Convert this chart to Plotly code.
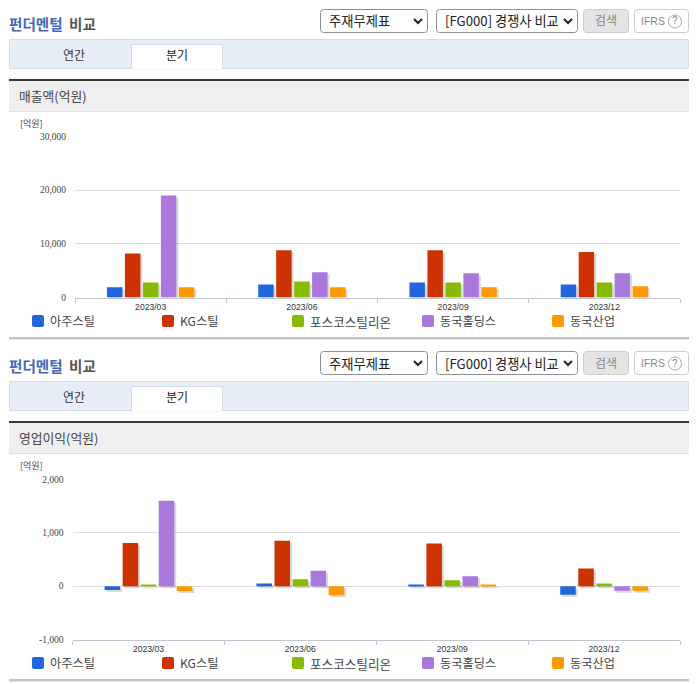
import plotly.graph_objects as go

W, H = 696, 684
KR = "Noto Sans CJK KR"
EN = "Liberation Sans"
NARROW = "Liberation Sans Narrow"

periods = ["2023/03", "2023/06", "2023/09", "2023/12"]
companies = ["아주스틸", "KG스틸", "포스코스틸리온", "동국홀딩스", "동국산업"]
colors = ["#2266dd", "#cc3300", "#88bb00", "#aa77dd", "#ff9900"]

revenue_ajoo = [1900, 2400, 2800, 2400]
revenue_kg = [8200, 8800, 8800, 8500]
revenue_posco = [2800, 3000, 2800, 2800]
revenue_dkh = [19000, 4700, 4500, 4500]
revenue_dki = [1900, 1900, 1900, 2100]

profit_ajoo = [-70, 50, 30, -160]
profit_kg = [810, 850, 800, 330]
profit_posco = [15, 130, 110, 50]
profit_dkh = [1600, 290, 185, -85]
profit_dki = [-90, -170, 25, -85]

revenue = [revenue_ajoo, revenue_kg, revenue_posco, revenue_dkh, revenue_dki]
profit = [profit_ajoo, profit_kg, profit_posco, profit_dkh, profit_dki]

rev_ticks = [0, 10000, 20000, 30000]
prof_ticks = [-1000, 0, 1000, 2000]

fig = go.Figure()
shapes, notes = [], []


def px(x):
    return x / W


def py(y):
    return 1 - y / H


def rect(x0, y0, x1, y1, fill=None, line=None, lw=1):
    shapes.append(dict(type="rect", xref="paper", yref="paper", x0=px(x0), x1=px(x1),
                       y0=py(y1), y1=py(y0), fillcolor=fill or "rgba(0,0,0,0)",
                       line=dict(color=line or "rgba(0,0,0,0)", width=lw if line else 0),
                       layer="below"))


def rrect(x0, y0, x1, y1, r, fill=None, line=None):
    X = lambda v: px(v)
    Y = lambda v: py(v)
    path = (f"M{X(x0+r)},{Y(y0)} L{X(x1-r)},{Y(y0)} Q{X(x1)},{Y(y0)} {X(x1)},{Y(y0+r)} "
            f"L{X(x1)},{Y(y1-r)} Q{X(x1)},{Y(y1)} {X(x1-r)},{Y(y1)} "
            f"L{X(x0+r)},{Y(y1)} Q{X(x0)},{Y(y1)} {X(x0)},{Y(y1-r)} "
            f"L{X(x0)},{Y(y0+r)} Q{X(x0)},{Y(y0)} {X(x0+r)},{Y(y0)} Z")
    shapes.append(dict(type="path", xref="paper", yref="paper", path=path,
                       fillcolor=fill or "rgba(0,0,0,0)",
                       line=dict(color=line or "rgba(0,0,0,0)", width=1 if line else 0),
                       layer="below"))


def text(x, y, s, size=12, color="#333333", anchor="left", family=KR):
    notes.append(dict(xref="paper", yref="paper", x=px(x), y=py(y), text=s, showarrow=False,
                      xanchor=anchor, yanchor="middle", align=anchor,
                      font=dict(size=size, color=color, family=family),
                      borderpad=0, borderwidth=0))


def chevron(cx, cy):
    path = (f"M{px(cx-4)},{py(cy-2)} L{px(cx)},{py(cy+2)} L{px(cx+4)},{py(cy-2)}")
    shapes.append(dict(type="path", xref="paper", yref="paper", path=path,
                       line=dict(color="#222222", width=2), layer="below"))


def chrome(dy, metric):
    text(9, 23.5 + dy, "<b>펀더멘털</b>", 14.6, "#4468b8")
    text(69, 23.5 + dy, "<b>비교</b>", 14.6, "#555555")
    rrect(320.5, 9.5 + dy, 427.5, 32.5 + dy, 3, "#ffffff", "#8f8f8f")
    text(329, 21 + dy, "주재무제표", 13.3, "#222222")
    chevron(418, 21 + dy)
    rrect(436.5, 9.5 + dy, 577.5, 32.5 + dy, 3, "#ffffff", "#8f8f8f")
    text(445, 21 + dy, "[FG000] 경쟁사 비교", 13.2, "#222222")
    chevron(568, 21 + dy)
    rrect(583.5, 9.5 + dy, 628.5, 32.5 + dy, 3, "#e4e4e4", "#cccccc")
    text(606, 20 + dy, "검색", 12, "#888888", "center")
    rrect(634.5, 9.5 + dy, 688.5, 32.5 + dy, 3, "#ffffff", "#cccccc")
    text(641, 21 + dy, "IFRS", 10.5, "#888888", family=EN)
    text(675, 21 + dy, "?", 10, "#888888", "center", EN)
    shapes.append(dict(type="circle", xref="paper", yref="paper", x0=px(668.5), x1=px(681.5),
                       y0=py(28 + dy), y1=py(15 + dy), line=dict(color="#aaaaaa", width=1),
                       layer="below"))
    rect(9.5, 39.5 + dy, 688.5, 68.5 + dy, "#e8eef8", "#d5dce8")
    rect(131.5, 44.5 + dy, 222.5, 69 + dy, "#ffffff", "#d5dce8")
    rect(132, 66 + dy, 222, 69.5 + dy, "#ffffff")
    text(74, 55 + dy, "연간", 12, "#333333", "center")
    text(177, 55 + dy, "분기", 12, "#222222", "center")
    rect(9, 79 + dy, 689, 81 + dy, "#3a3a3a")
    rect(9, 81 + dy, 689, 111 + dy, "#efefef")
    rect(9, 111 + dy, 689, 112 + dy, "#e0e0e0")
    text(19, 95.5 + dy, metric, 12.8, "#444444")
    text(20, 123 + dy, "[억원]", 9, "#444444")
    rect(9, 337 + dy, 689, 339.5 + dy, "#c4c4c4")
    for i, name in enumerate(companies):
        x = 32 + 130 * i
        rrect(x, 315 + dy, x + 12, 327 + dy, 2, colors[i])
        text(x + 17.5, 321 + dy, name, 12.6 if i == 2 else 12.2, "#444444")


chrome(0, "매출액(억원)")
chrome(342, "영업이익(억원)")


def add_chart(values, ticks, left, right, top, bottom, ax_base, ax_main):
    span = ticks[-1] - ticks[0]
    sx = 2 / ((right - left) / len(periods))
    sy = 2 * span / (bottom - top)
    dom_x = [px(left), px(right)]
    dom_y = [py(bottom), py(top)]
    bx, by = ("x", "y") if ax_base == 1 else (f"x{ax_base}", f"y{ax_base}")
    mx, my = f"x{ax_main}", f"y{ax_main}"
    for name, vals in zip(companies, values):
        fig.add_trace(go.Bar(x=periods, y=vals, name=name, xaxis=bx, yaxis=by,
                             marker=dict(color="rgba(0,0,0,0.15)", line_width=0),
                             showlegend=False, hoverinfo="skip"))
    for name, vals, col in zip(companies, values, colors):
        fig.add_trace(go.Bar(x=periods, y=vals, name=name, xaxis=mx, yaxis=my,
                             marker=dict(color=col, line_width=0), showlegend=False))
    kx = "xaxis" if ax_base == 1 else f"xaxis{ax_base}"
    ky = "yaxis" if ax_base == 1 else f"yaxis{ax_base}"
    fig.update_layout({
        kx: dict(domain=dom_x, type="category", categoryorder="array", categoryarray=periods,
                 range=[-0.5 - sx, len(periods) - 0.5 - sx], visible=False, anchor=by),
        ky: dict(domain=dom_y, range=[ticks[0] + sy, ticks[-1] + sy], visible=False, anchor=bx),
        f"xaxis{ax_main}": dict(domain=dom_x, type="category", categoryorder="array",
                                categoryarray=periods, range=[-0.5, len(periods) - 0.5],
                                overlaying=bx, anchor=my, tickson="boundaries", ticks="outside",
                                ticklen=4, tickcolor="#c0c8d8", tickwidth=1, showline=True,
                                linecolor="#c0c8d8", linewidth=1, showgrid=False,
                                ticklabelstandoff=1,
                                tickfont=dict(size=8.6, color="#333333", family=EN)),
        f"yaxis{ax_main}": dict(domain=dom_y, range=[ticks[0], ticks[-1]], overlaying=by,
                                anchor=mx, tickvals=ticks, ticktext=[f"{t:,}" for t in ticks],
                                ticks="outside", ticklen=6, tickcolor="rgba(0,0,0,0)",
                                showgrid=True, gridcolor="#dddddd", gridwidth=1,
                                zeroline=ticks[0] < 0, zerolinecolor="#dddddd", zerolinewidth=1,
                                showline=False,
                                tickfont=dict(size=9.5, color="#444444", family=NARROW)),
    })


add_chart(revenue, rev_ticks, 75, 680, 136.5, 297.5, 1, 2)
add_chart(profit, prof_ticks, 72.5, 680, 479.5, 639.5, 3, 4)

fig.update_layout(width=W, height=H, margin=dict(l=0, r=0, t=0, b=0, autoexpand=False),
                  autosize=False,
                  paper_bgcolor="#ffffff", plot_bgcolor="rgba(0,0,0,0)",
                  barmode="group", bargap=0.406, bargroupgap=0.14, showlegend=False,
                  shapes=shapes, annotations=notes)

fig.write_html("out.html", config=dict(displayModeBar=False),
               post_script="document.body.style.margin='0';")
